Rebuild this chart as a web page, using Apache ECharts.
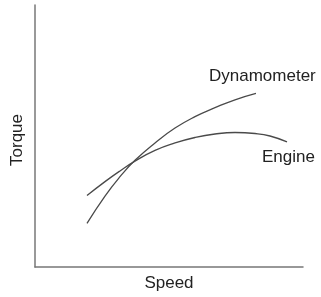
<!DOCTYPE html>
<html>
<head>
<meta charset="utf-8">
<script src="https://cdn.jsdelivr.net/npm/echarts@6/dist/echarts.min.js"></script>
<style>html,body{margin:0;padding:0;background:#fff}#c{width:321px;height:297px}</style>
</head>
<body>
<div id="c"></div>
<script>
// Speed (0-100 relative) and torque (0-100 relative)
const dynoSpeed  = [19.40, 26.12, 31.72, 37.31, 44.78, 52.24, 59.70, 67.16, 74.63, 82.46];
const dynoTorque = [16.67, 27.08, 34.47, 40.72, 47.35, 53.03, 57.39, 60.80, 63.83, 66.29];
const engineSpeed  = [19.40, 26.12, 31.72, 37.31, 44.78, 52.24, 59.70, 67.16, 74.63, 82.09, 87.69, 94.03];
const engineTorque = [27.27, 32.58, 36.67, 40.42, 44.51, 47.35, 49.43, 50.76, 51.33, 50.95, 50.00, 47.73];
const seriesNames = ['Dynamometer', 'Engine'];
const axisNames = ['Speed', 'Torque'];

const font = 'Liberation Sans, Arial, sans-serif';
const zip = (a, b) => a.map((v, i) => [v, b[i]]);
const chart = echarts.init(document.getElementById('c'), null, {renderer: 'canvas'});
const lineStyle = {color: '#4a4a4a', width: 1.3};
chart.setOption({
  animation: false,
  grid: {left: 35, right: 18, top: 5, bottom: 28},
  xAxis: {
    type: 'value', min: 0, max: 100,
    name: axisNames[0], nameLocation: 'middle', nameGap: 8,
    nameTextStyle: {fontFamily: font, fontSize: 17, color: '#222', verticalAlign: 'top'},
    axisLine: {show: true, lineStyle: {color: '#777', width: 1.5}},
    axisTick: {show: false}, axisLabel: {show: false}, splitLine: {show: false}
  },
  yAxis: {
    type: 'value', min: 0, max: 100,
    name: axisNames[1], nameLocation: 'middle', nameGap: 9,
    nameTextStyle: {fontFamily: font, fontSize: 17, color: '#222', padding: [0, 0, 0, -8]},
    axisLine: {show: true, lineStyle: {color: '#777', width: 1.5}},
    axisTick: {show: false}, axisLabel: {show: false}, splitLine: {show: false}
  },
  series: [
    {name: seriesNames[0], type: 'line', data: zip(dynoSpeed, dynoTorque), smooth: 0.5,
     showSymbol: false, lineStyle: lineStyle},
    {name: seriesNames[1], type: 'line', data: zip(engineSpeed, engineTorque), smooth: 0.5,
     showSymbol: false, lineStyle: lineStyle}
  ],
  graphic: [
    {type: 'text', left: 209, top: 68, style: {text: seriesNames[0], font: '17px ' + font, fill: '#222'}},
    {type: 'text', left: 262, top: 149, style: {text: seriesNames[1], font: '17px ' + font, fill: '#222'}}
  ]
});
</script>
</body>
</html>
